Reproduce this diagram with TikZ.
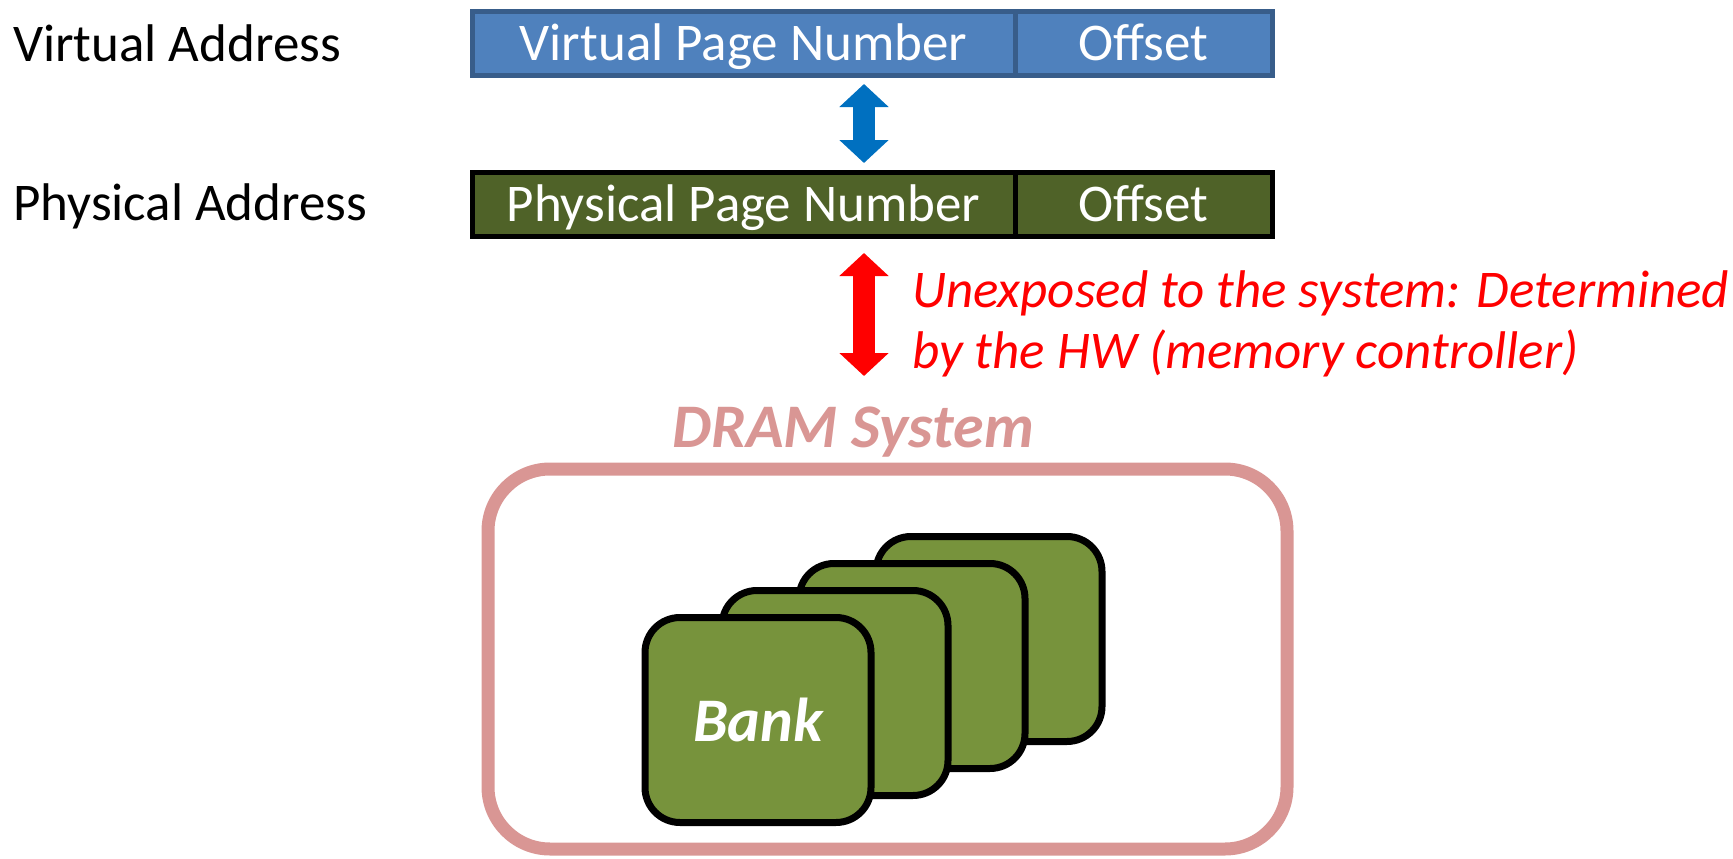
\documentclass[tikz,border=0pt]{standalone}
\usepackage{fontspec}
\setmainfont{Carlito}
\usepackage{tikz,xcolor}
\usetikzlibrary{arrows.meta,positioning}

\definecolor{vblue}{HTML}{4F81BD}
\definecolor{vblueline}{HTML}{385D8A}
\definecolor{pgreen}{HTML}{4F6228}
\definecolor{arrblue}{HTML}{0070C0}
\definecolor{drampink}{HTML}{D99694}
\definecolor{bankgreen}{HTML}{77933C}

\tikzset{
  big/.style={font=\fontsize{53}{61}\selectfont},
  huge/.style={font=\fontsize{62}{72}\selectfont\bfseries\itshape},
  vbar/.style={big, draw=vblueline, fill=vblue, text=white, line width=5pt,
    inner sep=0pt, outer sep=0pt, minimum height=64pt, text height=34pt, text depth=0pt},
  pbar/.style={vbar, draw=black, fill=pgreen},
  blockarr/.style={line width=22pt,
    {Triangle[length=23pt,width=48pt]}-{Triangle[length=23pt,width=48pt]}},
  bank/.style={draw=black, fill=bankgreen, line width=7pt, rounded corners=35pt,
    minimum width=226pt, minimum height=205pt, inner sep=0pt}
}

\begin{document}
\begin{tikzpicture}[x=1pt,y=-1pt]
  \useasboundingbox (0,0) rectangle (1733,859);

  % Address labels
  \node[big, anchor=base west, inner sep=0pt] (valabel) at (13,62) {Virtual Address};
  \node[big, anchor=base west, inner sep=0pt] (palabel) at (13,220) {Physical Address};

  % Address bars
  \node[vbar, minimum width=543pt, anchor=north west] (vpn) at (472,12) {Virtual Page Number};
  \node[vbar, minimum width=257pt, anchor=west] (voff) at (vpn.east) {Offset};
  \node[pbar, minimum width=543pt, anchor=north west] (ppn) at (472,172) {Physical Page Number};
  \node[pbar, minimum width=257pt, anchor=west] (poff) at (ppn.east) {Offset};

  % Translation arrows
  \coordinate (ax) at (864,0);
  \coordinate (memctl) at (864,376);
  \draw[blockarr, arrblue, shorten <=8pt, shorten >=9pt] (vpn.south -| ax) -- (ppn.north -| ax);
  \draw[blockarr, red, shorten <=17pt] (ppn.south -| ax) -- (memctl);
  \node[big, red, font=\fontsize{53}{61}\selectfont\itshape, anchor=base west, align=left,
    inner sep=0pt] (hwnote) at (912,368)
    {Unexposed to the system: Determined\\by the HW (memory controller)};

  % DRAM system
  \node[draw=drampink, line width=13pt, rounded corners=62pt, minimum width=799pt,
    minimum height=380pt, outer sep=0pt] (dram) at (887.5,659) {};
  \node[huge, text=drampink, anchor=base, inner sep=0pt] (dramtitle) at (853,447) {DRAM System};
  \foreach \i in {3,2,1}
    \node[bank] (bank\i) at (758+77*\i, 720-27*\i) {};
  \node[bank, huge, text=white] (bank0) at (758,720) {Bank};

\end{tikzpicture}
\end{document}
